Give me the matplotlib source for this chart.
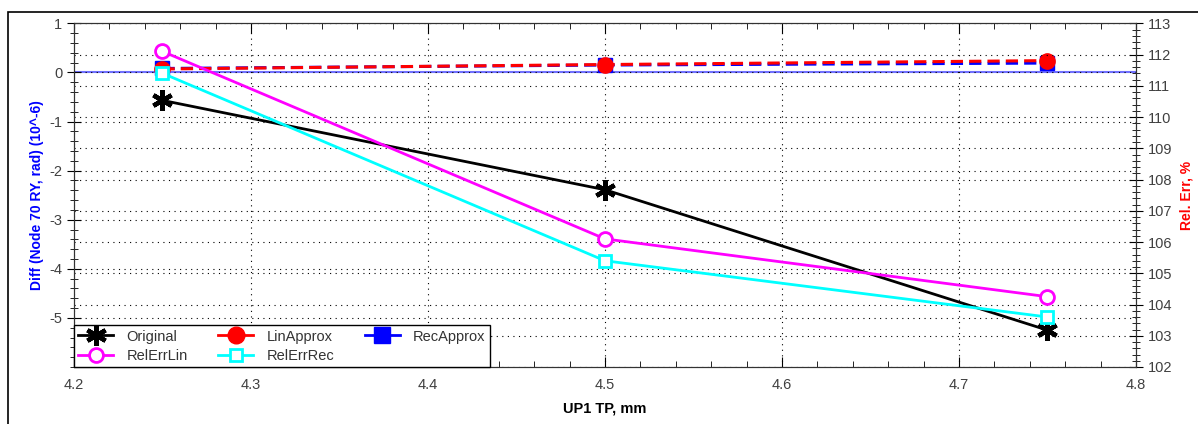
import numpy as np
import matplotlib
matplotlib.use("Agg")
import matplotlib.pyplot as plt
from matplotlib.lines import Line2D
from matplotlib.patches import Rectangle
from matplotlib.ticker import MultipleLocator

plt.rcParams['font.family'] = ['Liberation Sans', 'DejaVu Sans']
plt.rcParams['axes.unicode_minus'] = False

# data
x = [4.25, 4.5, 4.75]
original = [-0.57, -2.39, -5.25]
lin_approx = [0.07, 0.16, 0.24]
rec_approx = [0.08, 0.15, 0.19]
rel_err_lin = [112.1, 106.1, 104.25]
rel_err_rec = [111.4, 105.4, 103.6]

fig = plt.figure(figsize=(11.98, 4.24), dpi=100)
ax = fig.add_axes([74/1198, 1 - 367/424, (1136 - 74)/1198, (367 - 23.3)/424])
ax2 = ax.twinx()

# frame around the whole chart
fig.patches.append(Rectangle((8/1198, -0.05), 1.1, 1 - 12/424 + 0.05,
                             transform=fig.transFigure, fill=False,
                             edgecolor='black', linewidth=1.2))

ax.set_xlim(4.2, 4.8)
ax2.set_ylim(102, 113)

# grids (both axes)
ax.grid(True, which='major', color='black', linestyle=(0, (1, 4)), linewidth=0.8)
ax2.grid(True, which='major', axis='y', color='black', linestyle=(0, (1, 4)), linewidth=0.8)

ax.axhline(0, color='#7070ff', linewidth=1.5, zorder=1)

ms = 10
star = (6, 2, 0)
ax.plot(x, original, color='black', lw=2, marker=star, ms=15, mew=3.2, zorder=3)
ax.plot(x, rec_approx, color='blue', lw=2.2, ls=(0, (4, 2)), marker='s', ms=ms, zorder=3)
ax.plot(x, lin_approx, color='red', lw=2.2, ls=(0, (4, 2)), marker='o', ms=ms + 1, zorder=4)
ax2.plot(x, rel_err_lin, color='#ff00ff', lw=2, marker='o', ms=ms, mfc='white', mew=2)
ax2.plot(x, rel_err_rec, color='#00ffff', lw=2, marker='s', ms=ms - 1, mfc='white', mew=2)

ax.xaxis.set_major_locator(MultipleLocator(0.1))
ax.xaxis.set_minor_locator(MultipleLocator(0.02))
ax.set_yticks(range(-5, 2))
ax.set_yticks(np.arange(-6, 1.01, 0.2), minor=True)
ax.set_ylim(-6, 1)
ax2.yaxis.set_major_locator(MultipleLocator(1))
ax2.yaxis.set_minor_locator(MultipleLocator(0.2))

tc = '#404040'
ax.tick_params(axis='x', which='both', top=True, direction='in', colors='black', labelcolor=tc, labelsize=10.5)
ax.tick_params(axis='x', which='major', length=7, pad=8)
ax.tick_params(axis='x', which='minor', length=4)
ax.tick_params(axis='y', which='both', direction='inout', colors='black', labelcolor=tc, labelsize=10.5)
ax.tick_params(axis='y', which='major', length=10)
ax.tick_params(axis='y', which='minor', length=6)
ax2.tick_params(axis='y', which='both', direction='inout', colors='black', labelcolor=tc, labelsize=10.5)
ax2.tick_params(axis='y', which='major', length=10)
ax2.tick_params(axis='y', which='minor', length=6)
ax.set_xticklabels([f"{v:g}" for v in ax.get_xticks()])

for sp in list(ax.spines.values()) + list(ax2.spines.values()):
    sp.set_color('#333333')

ax.set_xlabel('UP1 TP, mm', fontsize=10.5, fontweight='bold', labelpad=7)
ax.set_ylabel('Diff (Node 70 RY, rad) (10^-6)', fontsize=10, fontweight='bold', color='blue', labelpad=4)
ax2.set_ylabel('Rel. Err, %', fontsize=10, fontweight='bold', color='red', labelpad=5)

handles = [
    Line2D([], [], color='black', lw=2, marker=star, ms=15, mew=3.2),
    Line2D([], [], color='#ff00ff', lw=2, marker='o', ms=ms, mfc='white', mew=2),
    Line2D([], [], color='red', lw=2, marker='o', ms=ms + 2),
    Line2D([], [], color='#00ffff', lw=2, marker='s', ms=ms - 1, mfc='white', mew=2),
    Line2D([], [], color='blue', lw=2, marker='s', ms=ms + 1),
]
labels = ['Original', 'RelErrLin', 'LinApprox', 'RelErrRec', 'RecApprox']
leg = ax2.legend(handles, labels, ncol=3, loc='lower left', bbox_to_anchor=(0, 0),
                 fontsize=10.5, frameon=True, fancybox=False, framealpha=1,
                 edgecolor='black', borderaxespad=0, handlelength=2.4,
                 handletextpad=0.9, columnspacing=2.1, labelspacing=0.35,
                 borderpad=0.3)
leg.get_frame().set_linewidth(1)
for t in leg.get_texts():
    t.set_color('#333333')

fig.savefig('out.png', dpi=100)
